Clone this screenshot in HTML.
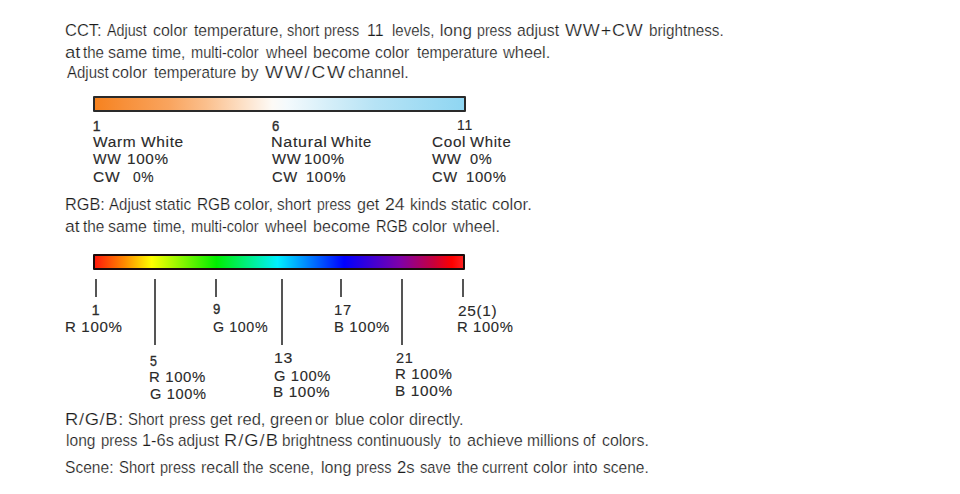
<!DOCTYPE html>
<html><head><meta charset="utf-8"><style>
html,body{margin:0;padding:0;background:#fff;}
body{width:960px;height:494px;position:relative;overflow:hidden;}
.m,.l{position:absolute;white-space:pre;line-height:1;transform-origin:0 0;color:#353535;}
.m{font-family:"Liberation Sans",sans-serif;font-size:17.0px;color:#1c1c1c;-webkit-text-stroke:0.22px #fff;}
.l{font-family:"Liberation Sans",sans-serif;font-size:14.0px;letter-spacing:0.6px;color:#2a2a2a;-webkit-text-stroke:0.12px #2a2a2a;}
.bar{position:absolute;left:93px;width:368.5px;height:12px;border:2px solid #2a2420;border-radius:1px;}
#cct{top:96px;background:linear-gradient(to right,#f6821f 0%,#f7903a 8%,#f9a45e 20%,#fbbf8c 30%,#fde0c6 40%,#fdfaf6 48%,#f4fafd 52%,#d6eff9 63%,#b6e3f5 76%,#8fd6f2 100%);border-color:#2a2a2a;}
#rgb{top:254px;width:368px;background:linear-gradient(to right,#ff1a0a 0%,#ff8a00 8%,#ffff00 15.4%,#00ee00 33%,#00f0ff 49.6%,#0000ff 67.7%,#8000a8 83%,#c8003c 92%,#ff0000 97%,#ff2020 100%);border-color:#1a0a0a;}
.d{-webkit-text-stroke:0.35px #333;}
.tk{position:absolute;width:2px;background:#555;}
</style></head><body>
<div class="bar" id="cct"></div>
<div class="bar" id="rgb"></div>
<div class="tk" style="left:95px;top:279px;height:18px"></div>
<div class="tk" style="left:215px;top:279px;height:18px"></div>
<div class="tk" style="left:340px;top:279px;height:18px"></div>
<div class="tk" style="left:462px;top:279px;height:18px"></div>
<div class="tk" style="left:154px;top:279px;height:66px"></div>
<div class="tk" style="left:281px;top:279px;height:66px"></div>
<div class="tk" style="left:401px;top:279px;height:66px"></div>
<div id="m0_0" class="m" style="left:64.83px;top:21.70px;transform:scaleX(0.9686);">CCT:</div>
<div id="m0_1" class="m" style="left:107.20px;top:21.70px;transform:scaleX(0.8404);">Adjust</div>
<div id="m0_2" class="m" style="left:152.76px;top:21.70px;transform:scaleX(0.9389);">color</div>
<div id="m0_3" class="m" style="left:194.20px;top:21.70px;transform:scaleX(0.9211);">temperature,</div>
<div id="m0_4" class="m" style="left:287.44px;top:21.70px;transform:scaleX(0.8568);">short</div>
<div id="m0_5" class="m" style="left:324.45px;top:21.70px;transform:scaleX(0.8475);">press</div>
<div id="m0_6" class="m" style="left:367.36px;top:21.70px;transform:scaleX(0.9375);">11</div>
<div id="m0_7" class="m" style="left:391.62px;top:21.70px;transform:scaleX(0.8804);">levels,</div>
<div id="m0_8" class="m" style="left:439.80px;top:21.70px;">long</div>
<div id="m0_9" class="m" style="left:477.47px;top:21.70px;transform:scaleX(0.8350);">press</div>
<div id="m0_10" class="m" style="left:516.57px;top:21.70px;transform:scaleX(0.9267);">adjust</div>
<div id="m0_11" class="m" style="left:565.00px;top:21.70px;letter-spacing:0.8px;transform:scaleX(1.0581);">WW+CW</div>
<div id="m0_12" class="m" style="left:649.10px;top:21.70px;transform:scaleX(0.8988);">brightness.</div>
<div id="m1_0" class="m" style="left:64.71px;top:43.60px;transform:scaleX(1.0923);">at</div>
<div id="m1_1" class="m" style="left:83.30px;top:43.60px;transform:scaleX(0.8870);">the</div>
<div id="m1_2" class="m" style="left:108.26px;top:43.60px;transform:scaleX(0.9450);">same</div>
<div id="m1_3" class="m" style="left:151.70px;top:43.60px;transform:scaleX(0.9028);">time,</div>
<div id="m1_4" class="m" style="left:191.14px;top:43.60px;transform:scaleX(0.8610);">multi-color</div>
<div id="m1_5" class="m" style="left:265.80px;top:43.60px;transform:scaleX(0.9295);">wheel</div>
<div id="m1_6" class="m" style="left:313.25px;top:43.60px;transform:scaleX(0.9458);">become</div>
<div id="m1_7" class="m" style="left:374.87px;top:43.60px;transform:scaleX(0.9278);">color</div>
<div id="m1_8" class="m" style="left:416.70px;top:43.60px;transform:scaleX(0.8791);">temperature</div>
<div id="m1_9" class="m" style="left:503.30px;top:43.60px;transform:scaleX(0.9625);">wheel.</div>
<div id="m2_0" class="m" style="left:66.80px;top:64.10px;transform:scaleX(0.8830);">Adjust</div>
<div id="m2_1" class="m" style="left:112.35px;top:64.10px;transform:scaleX(0.9500);">color</div>
<div id="m2_2" class="m" style="left:154.20px;top:64.10px;transform:scaleX(0.8967);">temperature</div>
<div id="m2_3" class="m" style="left:240.72px;top:64.10px;transform:scaleX(0.9765);">by</div>
<div id="m2_4" class="m" style="left:265.00px;top:64.10px;letter-spacing:1.5px;transform:scaleX(1.1268);">WW/CW</div>
<div id="m2_5" class="m" style="left:348.25px;top:64.10px;transform:scaleX(0.9452);">channel.</div>
<div id="m3_0" class="m" style="left:65.34px;top:196.20px;transform:scaleX(0.9590);">RGB:</div>
<div id="m3_1" class="m" style="left:109.20px;top:196.20px;transform:scaleX(0.8851);">Adjust</div>
<div id="m3_2" class="m" style="left:155.39px;top:196.20px;transform:scaleX(0.9132);">static</div>
<div id="m3_3" class="m" style="left:196.59px;top:196.20px;transform:scaleX(0.9057);">RGB</div>
<div id="m3_4" class="m" style="left:234.04px;top:196.20px;transform:scaleX(0.9615);">color,</div>
<div id="m3_5" class="m" style="left:277.40px;top:196.20px;transform:scaleX(0.9027);">short</div>
<div id="m3_6" class="m" style="left:317.18px;top:196.20px;transform:scaleX(0.8200);">press</div>
<div id="m3_7" class="m" style="left:356.56px;top:196.20px;transform:scaleX(0.9435);">get</div>
<div id="m3_8" class="m" style="left:385.26px;top:196.20px;transform:scaleX(1.0389);">24</div>
<div id="m3_9" class="m" style="left:410.38px;top:196.20px;transform:scaleX(0.9211);">kinds</div>
<div id="m3_10" class="m" style="left:451.39px;top:196.20px;transform:scaleX(0.9053);">static</div>
<div id="m3_11" class="m" style="left:491.52px;top:196.20px;transform:scaleX(0.9789);">color.</div>
<div id="m4_0" class="m" style="left:64.77px;top:217.80px;transform:scaleX(1.0308);">at</div>
<div id="m4_1" class="m" style="left:82.50px;top:217.80px;transform:scaleX(0.9043);">the</div>
<div id="m4_2" class="m" style="left:108.26px;top:217.80px;transform:scaleX(0.9375);">same</div>
<div id="m4_3" class="m" style="left:152.50px;top:217.80px;transform:scaleX(0.8806);">time,</div>
<div id="m4_4" class="m" style="left:191.14px;top:217.80px;transform:scaleX(0.8610);">multi-color</div>
<div id="m4_5" class="m" style="left:265.30px;top:217.80px;transform:scaleX(0.9409);">wheel</div>
<div id="m4_6" class="m" style="left:313.25px;top:217.80px;transform:scaleX(0.9458);">become</div>
<div id="m4_7" class="m" style="left:375.84px;top:217.80px;transform:scaleX(0.8571);">RGB</div>
<div id="m4_8" class="m" style="left:412.25px;top:217.80px;transform:scaleX(0.9472);">color</div>
<div id="m4_9" class="m" style="left:453.20px;top:217.80px;transform:scaleX(0.9542);">wheel.</div>
<div id="m5_0" class="m" style="left:65.22px;top:410.50px;letter-spacing:0.6px;transform:scaleX(1.0808);">R/G/B:</div>
<div id="m5_1" class="m" style="left:128.32px;top:410.50px;transform:scaleX(0.8750);">Short</div>
<div id="m5_2" class="m" style="left:169.12px;top:410.50px;transform:scaleX(0.8750);">press</div>
<div id="m5_3" class="m" style="left:209.86px;top:410.50px;transform:scaleX(0.9435);">get</div>
<div id="m5_4" class="m" style="left:237.03px;top:410.50px;transform:scaleX(0.9704);">red,</div>
<div id="m5_5" class="m" style="left:269.83px;top:410.50px;transform:scaleX(0.9738);">green</div>
<div id="m5_6" class="m" style="left:314.91px;top:410.50px;transform:scaleX(0.8929);">or</div>
<div id="m5_7" class="m" style="left:334.88px;top:410.50px;transform:scaleX(0.9161);">blue</div>
<div id="m5_8" class="m" style="left:369.05px;top:410.50px;transform:scaleX(0.9500);">color</div>
<div id="m5_9" class="m" style="left:409.05px;top:410.50px;transform:scaleX(0.9491);">directly.</div>
<div id="m6_0" class="m" style="left:65.78px;top:432.30px;transform:scaleX(0.9167);">long</div>
<div id="m6_1" class="m" style="left:100.83px;top:432.30px;transform:scaleX(0.8750);">press</div>
<div id="m6_2" class="m" style="left:141.54px;top:432.30px;transform:scaleX(0.9625);">1-6s</div>
<div id="m6_3" class="m" style="left:177.60px;top:432.30px;transform:scaleX(0.9044);">adjust</div>
<div id="m6_4" class="m" style="left:223.93px;top:432.30px;letter-spacing:1.0px;transform:scaleX(1.0714);">R/G/B</div>
<div id="m6_5" class="m" style="left:282.40px;top:432.30px;transform:scaleX(0.8987);">brightness</div>
<div id="m6_6" class="m" style="left:357.41px;top:432.30px;transform:scaleX(0.8904);">continuously</div>
<div id="m6_7" class="m" style="left:449.20px;top:432.30px;transform:scaleX(0.8286);">to</div>
<div id="m6_8" class="m" style="left:466.55px;top:432.30px;transform:scaleX(0.9509);">achieve</div>
<div id="m6_9" class="m" style="left:527.38px;top:432.30px;transform:scaleX(0.9164);">millions</div>
<div id="m6_10" class="m" style="left:583.34px;top:432.30px;transform:scaleX(0.8643);">of</div>
<div id="m6_11" class="m" style="left:602.06px;top:432.30px;transform:scaleX(0.9375);">colors.</div>
<div id="m7_0" class="m" style="left:65.38px;top:459.20px;transform:scaleX(0.9157);">Scene:</div>
<div id="m7_1" class="m" style="left:119.12px;top:459.20px;transform:scaleX(0.8750);">Short</div>
<div id="m7_2" class="m" style="left:159.95px;top:459.20px;transform:scaleX(0.8550);">press</div>
<div id="m7_3" class="m" style="left:200.76px;top:459.20px;transform:scaleX(0.9385);">recall</div>
<div id="m7_4" class="m" style="left:243.30px;top:459.20px;transform:scaleX(0.8696);">the</div>
<div id="m7_5" class="m" style="left:269.10px;top:459.20px;transform:scaleX(0.8958);">scene,</div>
<div id="m7_6" class="m" style="left:320.76px;top:459.20px;transform:scaleX(0.9433);">long</div>
<div id="m7_7" class="m" style="left:355.85px;top:459.20px;transform:scaleX(0.8525);">press</div>
<div id="m7_8" class="m" style="left:397.32px;top:459.20px;transform:scaleX(0.9824);">2s</div>
<div id="m7_9" class="m" style="left:419.94px;top:459.20px;transform:scaleX(0.8588);">save</div>
<div id="m7_10" class="m" style="left:456.70px;top:459.20px;transform:scaleX(0.9043);">the</div>
<div id="m7_11" class="m" style="left:482.43px;top:459.20px;transform:scaleX(0.8654);">current</div>
<div id="m7_12" class="m" style="left:533.26px;top:459.20px;transform:scaleX(0.9361);">color</div>
<div id="m7_13" class="m" style="left:573.30px;top:459.20px;transform:scaleX(0.8962);">into</div>
<div id="m7_14" class="m" style="left:603.29px;top:459.20px;transform:scaleX(0.9125);">scene.</div>
<div id="l0" class="l d" style="left:92.70px;top:118.60px;">1</div>
<div id="l1" class="l" style="left:93.00px;top:135.00px;transform:scaleX(1.1053);">Warm</div>
<div id="l2" class="l" style="left:140.50px;top:135.00px;transform:scaleX(1.1053);">White</div>
<div id="l3" class="l" style="left:93.00px;top:152.00px;transform:scaleX(1.0296);">WW</div>
<div id="l4" class="l" style="left:126.81px;top:152.00px;transform:scaleX(1.0919);">100%</div>
<div id="l5" class="l" style="left:93.00px;top:169.50px;transform:scaleX(1.1125);">CW</div>
<div id="l6" class="l" style="left:132.80px;top:169.50px;transform:scaleX(0.9905);">0%</div>
<div id="l7" class="l d" style="left:271.70px;top:118.70px;transform:scaleX(0.9375);">6</div>
<div id="l8" class="l" style="left:270.55px;top:135.00px;transform:scaleX(1.1468);">Natural</div>
<div id="l9" class="l" style="left:330.70px;top:135.00px;transform:scaleX(1.0553);">White</div>
<div id="l10" class="l" style="left:271.70px;top:152.00px;transform:scaleX(1.0630);">WW</div>
<div id="l11" class="l" style="left:304.43px;top:152.00px;transform:scaleX(1.0676);">100%</div>
<div id="l12" class="l" style="left:271.70px;top:169.50px;transform:scaleX(1.0542);">CW</div>
<div id="l13" class="l" style="left:306.25px;top:169.50px;transform:scaleX(1.0514);">100%</div>
<div id="l14" class="l" style="left:457.10px;top:118.00px;">11</div>
<div id="l15" class="l" style="left:432.00px;top:135.00px;transform:scaleX(1.0933);">Cool</div>
<div id="l16" class="l" style="left:470.30px;top:135.00px;transform:scaleX(1.0658);">White</div>
<div id="l17" class="l" style="left:432.00px;top:152.00px;transform:scaleX(1.0741);">WW</div>
<div id="l18" class="l" style="left:469.70px;top:152.00px;transform:scaleX(1.0429);">0%</div>
<div id="l19" class="l" style="left:432.00px;top:169.50px;transform:scaleX(1.0500);">CW</div>
<div id="l20" class="l" style="left:465.94px;top:169.50px;transform:scaleX(1.0649);">100%</div>
<div id="l21" class="l d" style="left:91.80px;top:303.00px;">1</div>
<div id="l22" class="l" style="left:64.92px;top:320.00px;transform:scaleX(1.0769);">R 100%</div>
<div id="l23" class="l d" style="left:212.50px;top:301.80px;transform:scaleX(0.9375);">9</div>
<div id="l24" class="l" style="left:212.50px;top:320.00px;transform:scaleX(1.0185);">G 100%</div>
<div id="l25" class="l" style="left:333.64px;top:303.30px;transform:scaleX(1.0600);">17</div>
<div id="l26" class="l" style="left:333.54px;top:320.00px;transform:scaleX(1.0627);">B 100%</div>
<div id="l27" class="l" style="left:457.70px;top:303.50px;transform:scaleX(1.1029);">25(1)</div>
<div id="l28" class="l" style="left:456.74px;top:320.00px;transform:scaleX(1.0577);">R 100%</div>
<div id="l29" class="l d" style="left:149.70px;top:353.50px;transform:scaleX(0.8875);">5</div>
<div id="l30" class="l" style="left:148.83px;top:369.80px;transform:scaleX(1.0673);">R 100%</div>
<div id="l31" class="l" style="left:149.90px;top:387.40px;transform:scaleX(1.0426);">G 100%</div>
<div id="l32" class="l" style="left:273.97px;top:350.80px;transform:scaleX(1.1333);">13</div>
<div id="l33" class="l" style="left:274.00px;top:368.80px;transform:scaleX(1.0519);">G 100%</div>
<div id="l34" class="l" style="left:273.41px;top:385.40px;transform:scaleX(1.0882);">B 100%</div>
<div id="l35" class="l" style="left:395.70px;top:350.80px;transform:scaleX(1.0375);">21</div>
<div id="l36" class="l" style="left:395.03px;top:367.40px;transform:scaleX(1.0750);">R 100%</div>
<div id="l37" class="l" style="left:395.00px;top:384.00px;transform:scaleX(1.0961);">B 100%</div>
</body></html>
